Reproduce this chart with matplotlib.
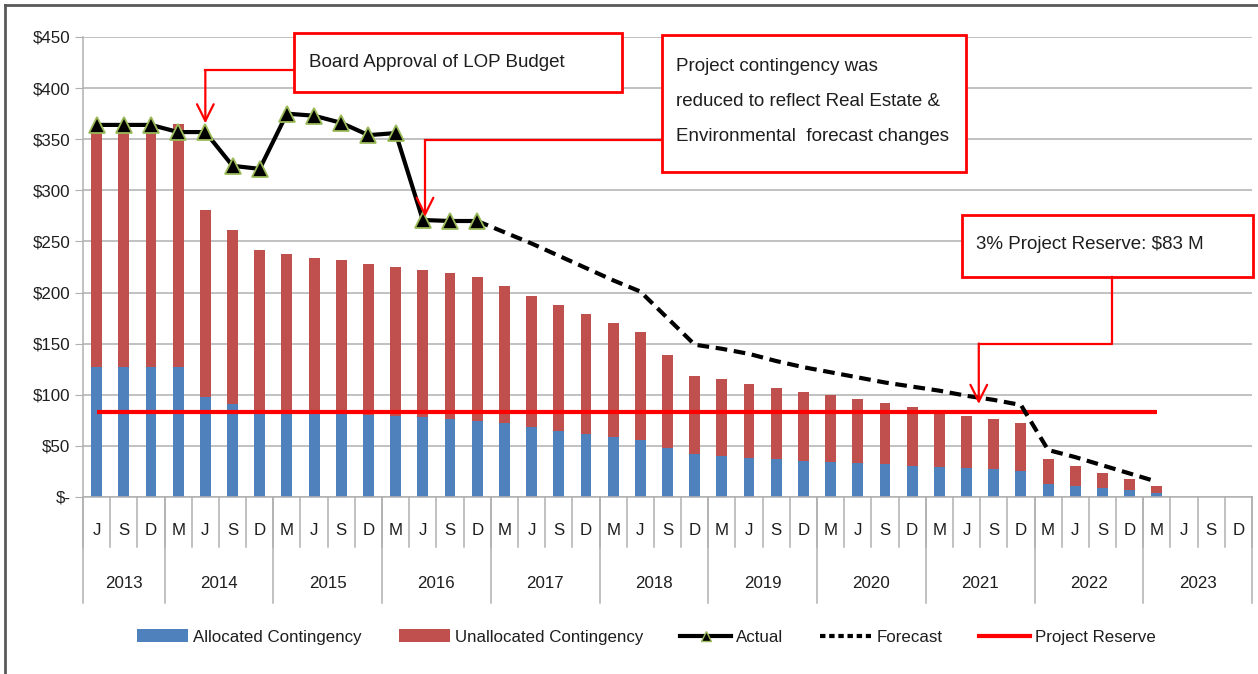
import numpy as np
import matplotlib
matplotlib.use('Agg')
import matplotlib.pyplot as plt
import matplotlib.ticker as ticker
from matplotlib import font_manager
from matplotlib.lines import Line2D
from matplotlib.patches import Patch, Rectangle

# ── Data ─────────────────────────────────────────────────────────────────────
YEARS = ['2013', '2014', '2015', '2016', '2017', '2018', '2019', '2020', '2021', '2022', '2023']
YEAR_MONTHS = [['J', 'S', 'D']] + [['M', 'J', 'S', 'D']] * 10

ALLOCATED = [127, 127, 127, 127, 98, 91, 82, 82, 81, 81, 80, 79,
             78, 76, 74, 72, 68, 65, 62, 59, 56, 48, 42, 40, 38.5, 37,
             35, 34, 33, 32, 30, 29, 28, 27, 25, 12.5, 10.5, 9, 6.5, 4]
UNALLOCATED = [232, 232, 232, 238, 183, 170, 160, 156, 153, 151, 148, 146,
               144, 143, 141, 134, 129, 123, 117, 111, 105, 91, 76, 75, 72.5, 70,
               68, 65.5, 63, 60, 58, 55, 51, 49, 47, 24.5, 19.5, 14.5, 11, 7]
ACTUAL = [364, 364, 364, 357, 357, 324, 321, 375, 373, 366, 354, 356, 271, 270, 270]
FORECAST_START = 14
FORECAST = [270, 259, 248, 236, 224, 212, 201, 175, 149, 145, 140, 133, 127,
            122, 117, 112, 108, 104, 99, 95, 90, 46, 39, 31, 23, 15]
RESERVE = 83

BLUE = '#4F81BD'
RED_BAR = '#C0504D'
RED = '#FF0000'
GRID = '#B0B0B0'
TEXT = '#1E1E1E'

names = {f.name for f in font_manager.fontManager.ttflist}
FONT = 'Liberation Sans Narrow' if 'Liberation Sans Narrow' in names else 'Liberation Sans'
NARROW = FONT == 'Liberation Sans Narrow'
SCALE = 1.0 if NARROW else 0.87
plt.rcParams['font.family'] = [FONT, 'DejaVu Sans']

W, H = 1258, 674
fig = plt.figure(figsize=(W / 100, H / 100), dpi=100)
ax = fig.add_axes([83 / W, 1 - 497 / H, (1252 - 83) / W, 460 / H])

months = [m for ms in YEAR_MONTHS for m in ms]
n_cat = len(months)
x_bar = np.arange(len(ALLOCATED))

ax.bar(x_bar, ALLOCATED, width=0.4, color=BLUE, zorder=2)
ax.bar(x_bar, UNALLOCATED, width=0.4, bottom=ALLOCATED, color=RED_BAR, zorder=2)
ax.plot(x_bar, [RESERVE] * len(ALLOCATED), color=RED, lw=3, zorder=3,
        solid_capstyle='butt')

x_fc = np.arange(FORECAST_START, FORECAST_START + len(FORECAST))
ax.plot(x_fc, FORECAST, color='black', lw=3, linestyle=(0, (2.8, 1.6)), zorder=4)
ax.plot(np.arange(len(ACTUAL)), ACTUAL, color='black', lw=3, marker='^',
        markersize=12, markerfacecolor='black', markeredgecolor='#9BBB59',
        markeredgewidth=1.3, zorder=5)

ax.set_xlim(-0.5, n_cat - 0.5)
ax.set_ylim(0, 450)
ax.set_yticks(np.arange(0, 451, 50))
ax.yaxis.set_major_formatter(ticker.FuncFormatter(
    lambda v, _: '$-' if v == 0 else f'${v:.0f}'))
ax.tick_params(axis='y', length=6, color=GRID, labelsize=14 * SCALE,
               labelcolor=TEXT, pad=3)
ax.set_xticks([])
ax.grid(axis='y', color=GRID, lw=1.1, zorder=0)
for s in ('top', 'right'):
    ax.spines[s].set_visible(False)
for s in ('left', 'bottom'):
    ax.spines[s].set_color(GRID)
    ax.spines[s].set_linewidth(1.1)

# ── Two-level category axis ──────────────────────────────────────────────────
tr = ax.get_xaxis_transform()
for i, m in enumerate(months):
    ax.text(i, -0.072, m, transform=tr, ha='center', va='center',
            fontsize=14 * SCALE, color=TEXT)
for k in range(n_cat + 1):
    ax.plot([k - 0.5, k - 0.5], [0, -0.108], transform=tr, color=GRID,
            lw=1.1, clip_on=False)
start = 0
for year, ms in zip(YEARS, YEAR_MONTHS):
    end = start + len(ms)
    ax.text((start + end - 1) / 2, -0.187, year, transform=tr, ha='center',
            va='center', fontsize=14 * SCALE, color=TEXT)
    ax.plot([start - 0.5, start - 0.5], [0, -0.23], transform=tr, color=GRID,
            lw=1.1, clip_on=False)
    start = end
ax.plot([start - 0.5, start - 0.5], [0, -0.23], transform=tr, color=GRID,
        lw=1.1, clip_on=False)


# ── Call-outs ────────────────────────────────────────────────────────────────
def callout(x0, x1, y0, y1, text, tx, ty, path, tip):
    ax.add_patch(Rectangle((x0, y0), x1 - x0, y1 - y0, facecolor='white',
                           edgecolor=RED, lw=2, clip_on=False, zorder=6))
    ax.text(tx, ty, text, ha='left', va='center', fontsize=15.5 * SCALE,
            color=TEXT, linespacing=2.1 / SCALE, zorder=7, clip_on=False)
    px, py = zip(*path)
    ax.plot(px, py, color=RED, lw=1.6, clip_on=False, zorder=6)
    ax.annotate('', xy=tip, xytext=path[-1], zorder=6,
                arrowprops=dict(arrowstyle='->,head_length=0.6,head_width=0.3',
                                color=RED, lw=1.6, shrinkA=0, shrinkB=0,
                                mutation_scale=20))


callout(7.26, 19.32, 395.9, 453.6, 'Board Approval of LOP Budget', 7.8, 425,
        [(7.26, 417.4), (4.0, 417.4)], (4.0, 365.5))
callout(20.79, 31.97, 317.5, 451.7,
        'Project contingency was\nreduced to reflect Real Estate &\n'
        'Environmental  forecast changes', 21.3, 387,
        [(20.79, 349), (12.08, 349)], (12.08, 274))
callout(31.83, 42.53, 215.7, 275.4, '3% Project Reserve: $83 M', 32.35, 247,
        [(37.34, 215.7), (37.34, 150.1), (32.45, 150.1)], (32.45, 91))

# ── Legend ───────────────────────────────────────────────────────────────────
handles = [
    Patch(facecolor=BLUE, label='Allocated Contingency'),
    Patch(facecolor=RED_BAR, label='Unallocated Contingency'),
    Line2D([], [], color='black', lw=3, marker='^', markersize=7,
           markerfacecolor='black', markeredgecolor='#9BBB59', label='Actual'),
    Line2D([], [], color='black', lw=3, linestyle=(0, (1.3, 0.9)), label='Forecast'),
    Line2D([], [], color=RED, lw=3, label='Project Reserve'),
]
fig.legend(handles=handles, loc='center', bbox_to_anchor=(0.514, 1 - 637 / H),
           ncol=5, frameon=False, fontsize=14 * SCALE, handlelength=3.0,
           handleheight=0.75, handletextpad=0.3, columnspacing=2.2,
           labelcolor=TEXT)

# ── Outer frame (left and top edges visible) ─────────────────────────────────
fig.add_artist(Line2D([5 / W, 5 / W], [0, 1 - 5 / H], transform=fig.transFigure,
                      color='#595959', lw=2))
fig.add_artist(Line2D([5 / W, 1], [1 - 5 / H, 1 - 5 / H], transform=fig.transFigure,
                      color='#595959', lw=2))

fig.savefig('out.png', dpi=100)
